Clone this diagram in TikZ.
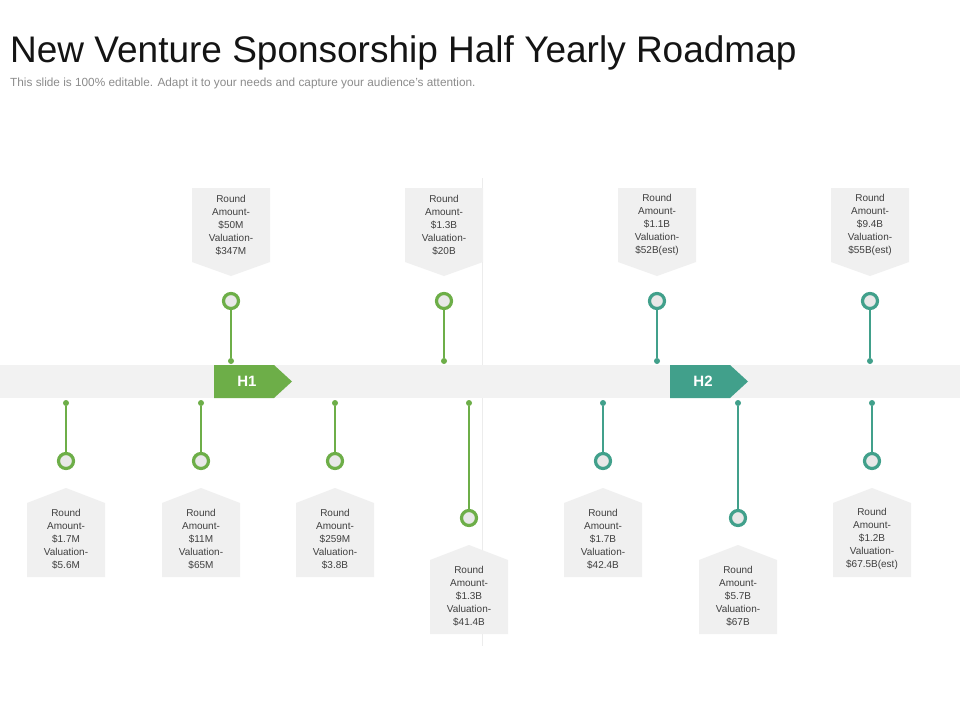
\documentclass[tikz,border=0pt]{standalone}
\usepackage{fontspec}
\setmainfont{Liberation Sans}
\usetikzlibrary{positioning}
\definecolor{hgreen}{HTML}{6DAE48}
\definecolor{hteal}{HTML}{41A08B}
\definecolor{bandgray}{HTML}{F2F2F2}
\definecolor{boxgray}{HTML}{F0F0F0}
\definecolor{ringfill}{HTML}{E8E8E8}
\definecolor{divgray}{HTML}{ECECEC}
\definecolor{infotext}{HTML}{3F3F3F}
\definecolor{subgray}{HTML}{8C8C8C}
\begin{document}
\begin{tikzpicture}[x=1pt,y=-1pt,
  milering/.style={circle,draw=#1,line width=3.2pt,fill=ringfill,minimum size=15pt,inner sep=0pt},
  miledot/.style={circle,fill=#1,minimum size=6pt,inner sep=0pt},
  stem/.style={draw=#1,line width=1.3pt},
  info/.style={align=center,font=\fontsize{10}{13}\selectfont,text=infotext,inner sep=0pt},
  half/.style={text=white,font=\fontsize{15}{18}\selectfont\bfseries}]
  \useasboundingbox[fill=white] (0,0) rectangle (960,720);

  % Title
  \node[anchor=base west,inner sep=0pt,text=black!92,font=\fontsize{37}{42}\selectfont] (title) at (10,62) {New Venture Sponsorship Half Yearly Roadmap};
  \node[anchor=base west,inner sep=0pt,text=subgray,font=\fontsize{11.8}{14}\selectfont] (subtitle) at (10,86) {This slide is 100\% editable. Adapt it to your needs and capture your audience's attention.};

  % Divider and band
  \draw[divgray,line width=0.8pt] (482,178) -- (482,646);
  \fill[bandgray] (0,365) rectangle (960,398);

  % Half year arrows
  \fill[hgreen] (214,365) -- (274,365) -- (292,381.5) -- (274,398) -- (214,398) -- cycle;
  \node[half] (h1) at (247,381.5) {H1};
  \fill[hteal] (670,365) -- (730,365) -- (748,381.5) -- (730,398) -- (670,398) -- cycle;
  \node[half] (h2) at (703,381.5) {H2};

  % Upper milestones
  \foreach \x/\amt/\val/\col/\n in {231/\$50M/\$347M/hgreen/a, 444/\$1.3B/\$20B/hgreen/b,
      657/\$1.1B/\$52B(est)/hteal/c, 870/\$9.4B/\$55B(est)/hteal/d} {
    \fill[boxgray] (\x-39,188) -- (\x+39,188) -- (\x+39,262) -- (\x,276) -- (\x-39,262) -- cycle;
    \node[info] (t\n) at (\x,225) {Round\\Amount-\\\amt\\Valuation-\\\val};
    \node[miledot=\col] (td\n) at (\x,361) {};
    \node[milering=\col] (tc\n) at (\x,301) {};
    \draw[stem=\col] (tc\n) -- (td\n);
  }

  % Lower milestones
  \foreach \x/\y/\amt/\val/\col/\n in {66/461/\$1.7M/\$5.6M/hgreen/a, 201/461/\$11M/\$65M/hgreen/b,
      335/461/\$259M/\$3.8B/hgreen/c, 469/518/\$1.3B/\$41.4B/hgreen/d,
      603/461/\$1.7B/\$42.4B/hteal/e, 738/518/\$5.7B/\$67B/hteal/f,
      872/461/\$1.2B/\$67.5B(est)/hteal/g} {
    \fill[boxgray] (\x,\y+27) -- (\x+39,\y+42) -- (\x+39,\y+116) -- (\x-39,\y+116) -- (\x-39,\y+42) -- cycle;
    \node[info] (b\n) at (\x,\y+78) {Round\\Amount-\\\amt\\Valuation-\\\val};
    \node[miledot=\col] (bd\n) at (\x,403) {};
    \node[milering=\col] (bc\n) at (\x,\y) {};
    \draw[stem=\col] (bd\n) -- (bc\n);
  }
\end{tikzpicture}
\end{document}
